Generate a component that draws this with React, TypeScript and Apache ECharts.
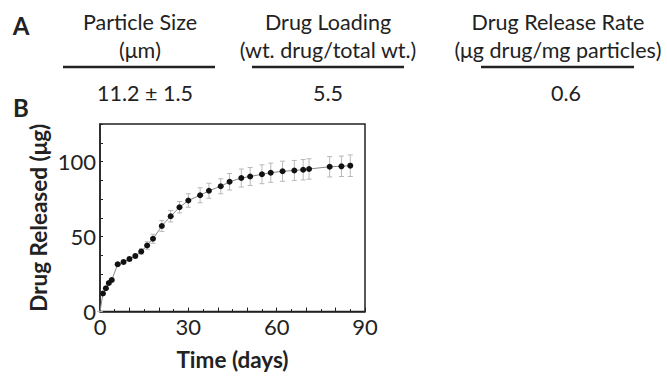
import React, { useEffect, useRef } from "react";
import * as echarts from "echarts";

// Panel A table
const headers = ["Particle Size", "Drug Loading", "Drug Release Rate"];
const units = ["(μm)", "(wt. drug/total wt.)", "(μg drug/mg particles)"];
const tableValues = ["11.2 ± 1.5", "5.5", "0.6"];

// Panel B data
const days = [0, 1, 2, 3, 4, 6, 8, 10, 12, 14, 16, 18, 21, 24, 27, 30, 34, 37, 41, 44, 48, 51, 55, 58, 62, 66, 69, 71, 78, 82, 85];
const released = [0, 12, 15.5, 19, 21, 31.5, 33, 35, 37, 40, 44, 48.5, 57, 63.5, 69.5, 74, 77.5, 80.5, 83.5, 86.5, 89, 90, 91.5, 92.5, 93.5, 94, 94.5, 95, 96.5, 96.8, 97.2];
const errors = [0, 0.8, 1, 1, 1.2, 1.2, 1.3, 1.4, 1.5, 1.8, 2.5, 3, 3.6, 3.8, 3.8, 4.5, 5, 5, 5, 5.5, 6, 6, 6.3, 6.4, 6.7, 6.7, 6.8, 6.8, 6.8, 6.8, 7.2];

const FONT = "Lato, 'Open Sans', sans-serif";

export default function App() {
  const ref = useRef<HTMLDivElement>(null);
  useEffect(() => {
    if (!ref.current) return;
    const chart = echarts.init(ref.current, undefined, { renderer: "svg" });
    const colX = [140, 328, 558];
    const lineX = [[63, 215], [252, 404], [481, 634]];
    const graphics: any[] = [
      { type: "text", x: 21, y: 25, style: { text: "A", font: `bold 24px ${FONT}`, fill: "#222", align: "center", verticalAlign: "middle" } },
      { type: "text", x: 21, y: 107, style: { text: "B", font: `bold 24px ${FONT}`, fill: "#222", align: "center", verticalAlign: "middle" } },
    ];
    headers.forEach((h, i) => {
      graphics.push({ type: "text", x: colX[i], y: 22, style: { text: h, font: `21.5px ${FONT}`, fill: "#222", align: "center", verticalAlign: "middle" } });
      graphics.push({ type: "text", x: colX[i], y: 50, style: { text: units[i], font: `21.5px ${FONT}`, fill: "#222", align: "center", verticalAlign: "middle" } });
      graphics.push({ type: "line", shape: { x1: lineX[i][0], y1: 67, x2: lineX[i][1], y2: 67 }, style: { stroke: "#222", lineWidth: 2.5 } });
      graphics.push({ type: "text", x: colX[i] + (i === 0 ? 5 : i === 2 ? 8 : 0), y: 93, style: { text: tableValues[i], font: `21.5px ${FONT}`, fill: "#222", align: "center", verticalAlign: "middle" } });
    });

    const lineData = days.map((d, i) =>
      i === 0 ? { value: [d, released[i]], symbolSize: 0 } : { value: [d, released[i]] }
    );
    const errData = days.map((d, i) => [d, released[i] - errors[i], released[i] + errors[i]]);

    chart.setOption({
      animation: false,
      textStyle: { fontFamily: FONT },
      graphic: graphics,
      grid: { left: 100, top: 124, right: 302, bottom: 65.5, show: true, borderColor: "#222", borderWidth: 1.5, containLabel: false },
      xAxis: {
        type: "value", min: 0, max: 90, interval: 10,
        name: "Time (days)", nameLocation: "middle", nameGap: 36,
        nameTextStyle: { fontSize: 22.5, fontWeight: "bold", color: "#222", fontFamily: FONT },
        axisLine: { show: true, lineStyle: { color: "#222", width: 1.5 } },
        axisTick: { show: true, inside: true, length: 4, lineStyle: { color: "#222" } },
        minorTick: { show: true, splitNumber: 2, length: 2.5, lineStyle: { color: "#222" } },
        splitLine: { show: false },
        axisLabel: { fontSize: 22, color: "#222", margin: 4, formatter: (v: number) => (v % 30 === 0 ? String(v) : "") },
      },
      yAxis: {
        type: "value", min: 0, max: 125, interval: 25,
        name: "Drug Released (μg)", nameLocation: "middle", nameGap: 50,
        nameTextStyle: { fontSize: 22.5, fontWeight: "bold", color: "#222", fontFamily: FONT },
        axisLine: { show: true, lineStyle: { color: "#222", width: 1.5 } },
        axisTick: { show: true, inside: true, length: 3, lineStyle: { color: "#222" } },
        minorTick: { show: true, splitNumber: 2, length: 3, lineStyle: { color: "#222" } },
        splitLine: { show: false },
        axisLabel: { fontSize: 22, color: "#222", margin: 4, formatter: (v: number) => (v % 50 === 0 && v <= 100 ? String(v) : "") },
      },
      series: [
        {
          type: "custom",
          data: errData,
          z: 1,
          renderItem: (params: any, api: any) => {
            const x = api.value(0);
            const lo = api.coord([x, api.value(1)]);
            const hi = api.coord([x, api.value(2)]);
            const w = 2.5;
            const st = { stroke: "#b8b8b8", lineWidth: 1 };
            return {
              type: "group",
              children: [
                { type: "line", shape: { x1: lo[0], y1: lo[1], x2: hi[0], y2: hi[1] }, style: st },
                { type: "line", shape: { x1: lo[0] - w, y1: lo[1], x2: lo[0] + w, y2: lo[1] }, style: st },
                { type: "line", shape: { x1: hi[0] - w, y1: hi[1], x2: hi[0] + w, y2: hi[1] }, style: st },
              ],
            };
          },
        },
        {
          type: "line",
          data: lineData,
          z: 2,
          symbol: "circle",
          symbolSize: 6,
          itemStyle: { color: "#111" },
          lineStyle: { color: "#888", width: 1 },
        },
      ],
    });
    return () => chart.dispose();
  }, []);
  return <div ref={ref} style={{ position: "fixed", left: 0, top: 0, width: 667, height: 377, background: "#fff" }} />;
}
